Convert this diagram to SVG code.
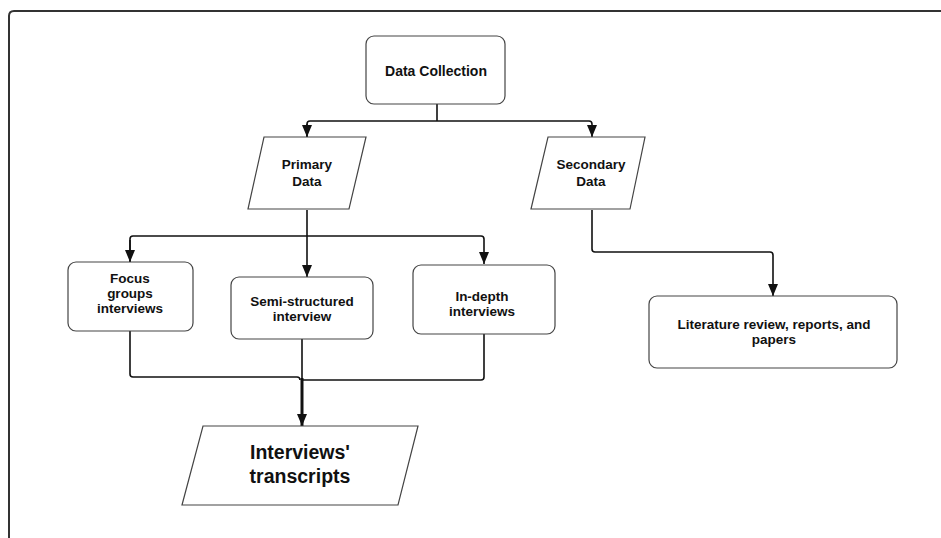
<svg xmlns="http://www.w3.org/2000/svg" width="941" height="538" viewBox="0 0 941 538">
<style>
.shape{fill:#fff;stroke:#444;stroke-width:1.2}
.t{font-family:"Liberation Sans",Arial,sans-serif;font-weight:bold;font-size:13.5px;fill:#111;text-anchor:middle}
.big{font-size:19.5px}
.c{fill:none;stroke:#111;stroke-width:1.6}
.thick{stroke-width:3}
</style>
<defs>
<marker id="ahd" markerWidth="10" markerHeight="12" refX="5" refY="12" orient="0" markerUnits="userSpaceOnUse" viewBox="0 0 10 12">
<path d="M0,0 L10,0 L5,12 Z" fill="#111"/>
</marker>
</defs>
<rect width="941" height="538" fill="#fff"/>
<path d="M9,545 L9,16 Q9,11 14,11 L950,11" fill="none" stroke="#333" stroke-width="2"/>

<g id="connectors">
<path class="c" d="M437,104 V121 M307,137 V124 Q307,121 310,121 H589 Q592,121 592,124 V137" marker-end="url(#ahd)"/>
<path class="c" d="M307,124 V137" marker-end="url(#ahd)"/>
<path class="c" d="M307,210 V236 M130,262 V239 Q130,236 133,236 H481 Q484,236 484,239 V264" marker-end="url(#ahd)"/>
<path class="c" d="M130,240 V262" marker-end="url(#ahd)"/>
<path class="c" d="M307,236 V277" marker-end="url(#ahd)"/>
<path class="c" d="M592,210 V249 Q592,252 595,252 H770 Q773,252 773,255 V296" marker-end="url(#ahd)"/>
<path class="c" d="M130,331 V374 Q130,377 133,377 H297 Q300,377 300,380 M302,339 V380 H481 Q484,380 484,377 V334"/>
<path class="c thick" d="M302,378 V426" marker-end="url(#ahd)"/>
</g>

<g id="data-collection">
<rect class="shape" x="366" y="36" width="139" height="68" rx="8"/>
<text class="t" x="436" y="76" style="font-size:14px">Data Collection</text>
</g>
<g id="primary-data">
<polygon class="shape" points="264,137 366,137 349,209 248,209"/>
<text class="t" x="307" y="169">Primary</text>
<text class="t" x="307" y="186">Data</text>
</g>
<g id="secondary-data">
<polygon class="shape" points="548,137 645,137 630,209 531,209"/>
<text class="t" x="591" y="169">Secondary</text>
<text class="t" x="591" y="186">Data</text>
</g>
<g id="focus-groups">
<rect class="shape" x="68" y="262" width="125" height="69" rx="8"/>
<text class="t" x="130" y="283">Focus</text>
<text class="t" x="130" y="298">groups</text>
<text class="t" x="130" y="313">interviews</text>
</g>
<g id="semi-structured">
<rect class="shape" x="231" y="277" width="142" height="62" rx="8"/>
<text class="t" x="302" y="306">Semi-structured</text>
<text class="t" x="302" y="321">interview</text>
</g>
<g id="in-depth">
<rect class="shape" x="413" y="265" width="142" height="69" rx="8"/>
<text class="t" x="482" y="301">In-depth</text>
<text class="t" x="482" y="316">interviews</text>
</g>
<g id="literature">
<rect class="shape" x="649" y="296" width="248" height="72" rx="8"/>
<text class="t" x="774" y="329">Literature review, reports, and</text>
<text class="t" x="774" y="344">papers</text>
</g>
<g id="transcripts">
<polygon class="shape" points="203,426 418,426 398,505 182,505"/>
<text class="t big" x="300" y="459">Interviews'</text>
<text class="t big" x="300" y="483">transcripts</text>
</g>
</svg>
